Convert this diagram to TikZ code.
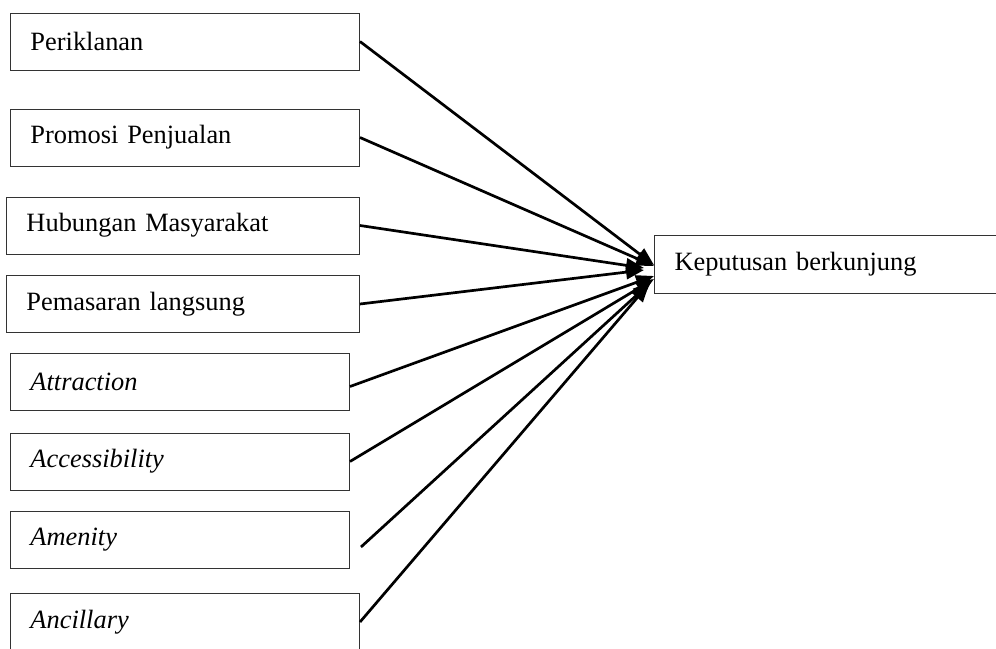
\documentclass[tikz,border=0pt]{standalone}
\usepackage{fontspec}
\setmainfont{Liberation Serif}
\usetikzlibrary{arrows.meta}
\tikzstyle{box}=[draw=black!80, line width=1pt, inner xsep=20pt, inner ysep=0pt, minimum height=57pt, align=left, font=\fontsize{26.4}{30}\selectfont]
\tikzstyle{arr}=[line width=2.7pt, -{Triangle[length=18pt,width=14pt]}]

\begin{document}
\begin{tikzpicture}[x=1pt, y=-1pt]
				\useasboundingbox (0,0) rectangle (996,648);
				% left column
				\node[box, text width=309pt] (per) at (185,41.5) {Periklanan};
				\node[box, text width=309pt] (pro) at (185,137.5) {Promosi Penjualan};
				\node[box, text width=313pt] (hum) at (183,225.5) {Hubungan Masyarakat};
				\node[box, text width=313pt] (pem) at (183,304) {Pemasaran langsung};
				\node[box, text width=299pt] (att) at (180,381.5) {\itshape Attraction};
				\node[box, text width=299pt] (acc) at (180,461.5) {\itshape Accessibility};
				\node[box, text width=299pt] (ame) at (180,539.5) {\itshape Amenity};
				\node[box, text width=309pt, minimum height=58pt] (anc) at (185,622) {\itshape Ancillary};
				% right box
				\node[box, text width=309pt, minimum height=58pt] (kep) at (829,264) {Keputusan berkunjung};
				\coordinate (ame-out) at (361,547);
				% arrows
				\draw[arr] (per.east) -- ([shift={(0,1)}]kep.west);
				\draw[arr] (pro.east) -- ([shift={(0,2)}]kep.west);
				\draw[arr] (hum.east) -- ([shift={(-10,4)}]kep.west);
				\draw[arr] (pem.east) -- ([shift={(-10,6)}]kep.west);
				\draw[arr] ([yshift=-5pt]att.east) -- ([shift={(0,12)}]kep.west);
				\draw[arr] (acc.east) -- ([shift={(0,15)}]kep.west);
				\draw[arr] (ame-out) -- ([shift={(-3,18)}]kep.west);
				\draw[arr] (anc.east) -- ([shift={(-5,20)}]kep.west);
			\end{tikzpicture}
\end{document}
